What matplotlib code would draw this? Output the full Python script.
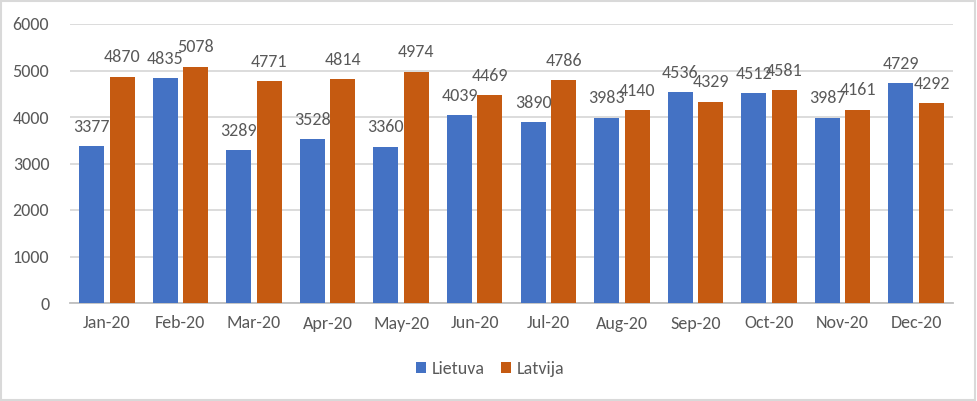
import matplotlib.pyplot as plt
import numpy as np
from matplotlib.patches import Rectangle

# chart data
months = ['Jan-20', 'Feb-20', 'Mar-20', 'Apr-20', 'May-20', 'Jun-20',
          'Jul-20', 'Aug-20', 'Sep-20', 'Oct-20', 'Nov-20', 'Dec-20']
lietuva = [3377, 4835, 3289, 3528, 3360, 4039, 3890, 3983, 4536, 4512, 3987, 4729]
latvija = [4870, 5078, 4771, 4814, 4974, 4469, 4786, 4140, 4329, 4581, 4161, 4292]

blue = '#4472C4'
orange = '#C55A11'
text_col = '#595959'
grid_col = '#D9D9D9'

plt.rcParams['font.family'] = ['Calibri', 'Carlito', 'Open Sans', 'DejaVu Sans']
fs = 13

fig = plt.figure(figsize=(9.77, 4.01), dpi=100)
ax = fig.add_axes([70 / 977, 1 - 303 / 401, (953 - 70) / 977, (303 - 24) / 401])

x = np.arange(len(months))
w = 0.34
off = 0.207
b1 = ax.bar(x - off, lietuva, w, color=blue, label='Lietuva', zorder=3)
b2 = ax.bar(x + off, latvija, w, color=orange, label='Latvija', zorder=3)

# value labels above each bar
for bars, vals in ((b1, lietuva), (b2, latvija)):
    for rect, v in zip(bars, vals):
        ax.annotate(str(v), (rect.get_x() + rect.get_width() / 2, v),
                    xytext=(0, 14), textcoords='offset points',
                    ha='center', va='center', fontsize=fs, color=text_col, zorder=4)

ax.set_xlim(-0.5, len(months) - 0.5)
ax.set_ylim(0, 6000)
ax.set_yticks(range(0, 6001, 1000))
ax.set_xticks(x)
ax.set_xticklabels(months)
ax.yaxis.grid(True, color=grid_col, linewidth=1.3, zorder=0)
ax.tick_params(axis='both', length=0, labelsize=fs, labelcolor=text_col)
ax.tick_params(axis='y', pad=15)
ax.tick_params(axis='x', pad=9)
for s in ['top', 'right', 'left']:
    ax.spines[s].set_visible(False)
ax.spines['bottom'].set_color('#BFBFBF')
ax.spines['bottom'].set_linewidth(1.3)

fig.legend(handles=[b1, b2], labels=['Lietuva', 'Latvija'], loc='center',
           bbox_to_anchor=(490 / 977, 1 - 369 / 401), ncol=2, frameon=False,
           fontsize=fs, labelcolor=text_col, handlelength=0.58, handleheight=0.58,
           handletextpad=0.3, columnspacing=0.9)

# light gray chart border
fig.patches.append(Rectangle((0.001, 0.002), 0.997, 0.995, transform=fig.transFigure,
                             fill=False, edgecolor='#D9D9D9', linewidth=1.5))

fig.savefig('out.png', dpi=100)
